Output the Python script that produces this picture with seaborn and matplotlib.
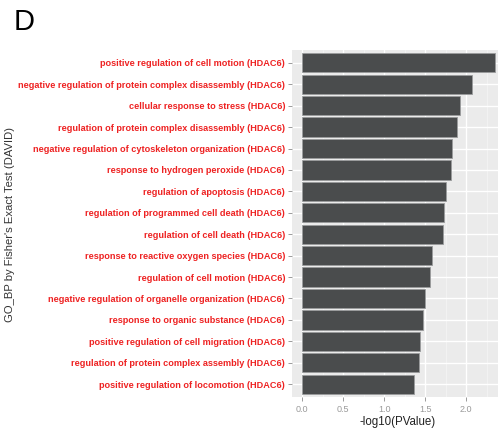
import matplotlib
matplotlib.use("Agg")
import matplotlib.pyplot as plt
import seaborn as sns
import pandas as pd
from matplotlib.ticker import MultipleLocator

terms = [
    "positive regulation of cell motion (HDAC6)",
    "negative regulation of protein complex disassembly (HDAC6)",
    "cellular response to stress (HDAC6)",
    "regulation of protein complex disassembly (HDAC6)",
    "negative regulation of cytoskeleton organization (HDAC6)",
    "response to hydrogen peroxide (HDAC6)",
    "regulation of apoptosis (HDAC6)",
    "regulation of programmed cell death (HDAC6)",
    "regulation of cell death (HDAC6)",
    "response to reactive oxygen species (HDAC6)",
    "regulation of cell motion (HDAC6)",
    "negative regulation of organelle organization (HDAC6)",
    "response to organic substance (HDAC6)",
    "positive regulation of cell migration (HDAC6)",
    "regulation of protein complex assembly (HDAC6)",
    "positive regulation of locomotion (HDAC6)",
]
neg_log_p = [2.355, 2.075, 1.929, 1.893, 1.832, 1.816, 1.752, 1.727,
             1.715, 1.582, 1.561, 1.504, 1.472, 1.439, 1.423, 1.360]

df = pd.DataFrame({"term": terms, "score": neg_log_p})

sns.set_style("darkgrid", {"axes.facecolor": "#EBEBEB", "grid.color": "white"})
plt.rcParams['font.family'] = ['Liberation Sans', 'DejaVu Sans']

W, H = 499, 429
fig = plt.figure(figsize=(W / 100, H / 100), dpi=100)
ax = fig.add_axes([292 / W, (H - 397) / H, (498 - 292) / W, (397 - 50) / H])

sns.barplot(data=df, x="score", y="term", orient="h", color="#4A4C4D",
            saturation=1, width=0.9, edgecolor="#9A9C9D", linewidth=0.6, ax=ax)

ax.set_xlim(-0.122, 2.388)
ax.set_ylim(len(terms) - 0.4, -0.6)
ax.xaxis.set_major_locator(MultipleLocator(0.5))
ax.xaxis.set_minor_locator(MultipleLocator(0.25))
ax.grid(which="major", color="white", linewidth=1.0)
ax.grid(which="minor", axis="x", color="#F4F4F4", linewidth=0.6)
ax.set_axisbelow(True)
for s in ax.spines.values():
    s.set_visible(False)

ax.set_xticks([0, 0.5, 1.0, 1.5, 2.0])
ax.set_xticklabels(["0.0", "0.5", "1.0", "1.5", "2.0"], color="#9A9A9A", fontsize=6.5)
ax.tick_params(axis="x", which="major", length=3, color="#8A8A8A", width=0.6, pad=3, bottom=True)
ax.tick_params(axis="x", which="minor", length=0)
ax.tick_params(axis="y", length=3, color="#8A8A8A", width=0.6, pad=2, left=True)
for lab in ax.get_yticklabels():
    lab.set_color("#EE2222")
    lab.set_fontweight("bold")
    lab.set_fontsize(6.55)

ax.set_xlabel("")
ax.set_ylabel("")
fig.text(398 / W, 1 - 422.5 / H, "-log10(PValue)", ha="center", va="center",
         fontsize=8.3, color="#222222")
fig.text(10 / W, 1 - 224 / H, "GO_BP by Fisher's Exact Test (DAVID)", rotation=90,
         ha="center", va="center", fontsize=8.1, color="#333333")
fig.text(14 / W, 1 - 22 / H, "D", fontsize=21, ha="left", va="center", color="black")

fig.savefig("out.png", dpi=100)
